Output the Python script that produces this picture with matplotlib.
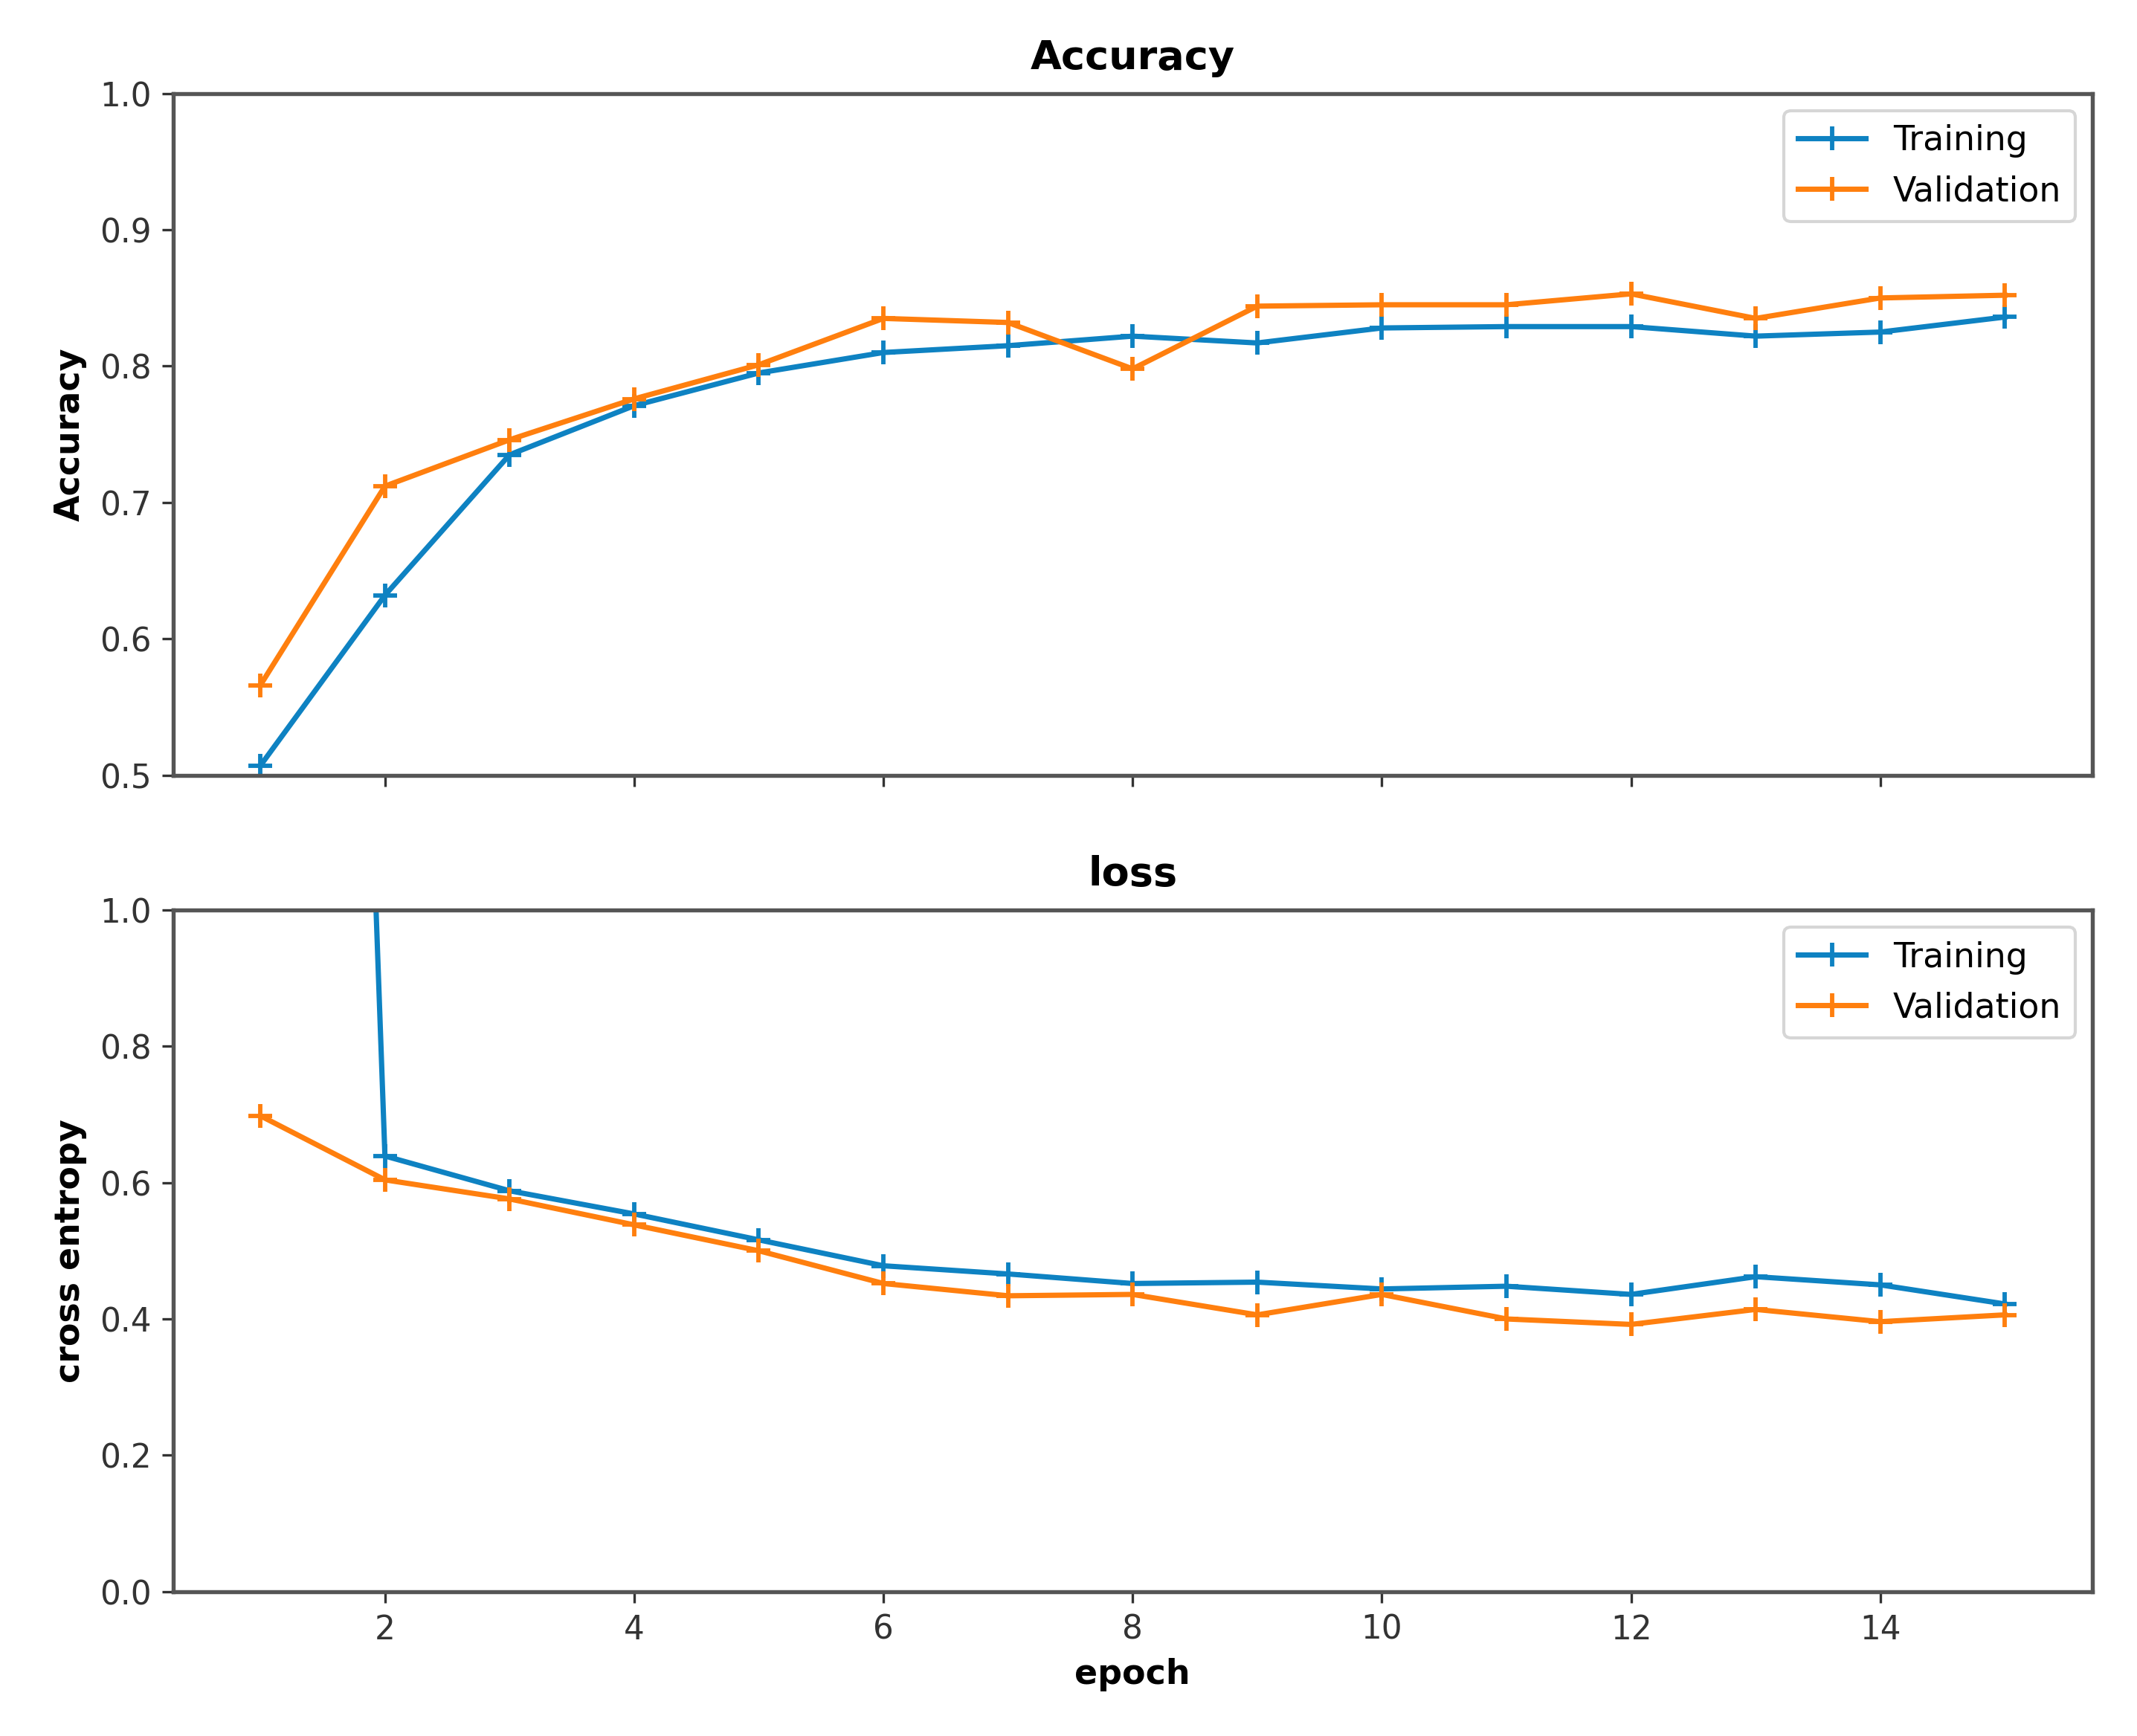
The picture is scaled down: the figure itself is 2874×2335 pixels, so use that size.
import numpy as np
import matplotlib.pyplot as plt

# training history
epochs = np.arange(1, 16)
acc_train = [0.507, 0.632, 0.735, 0.771, 0.795, 0.810, 0.815, 0.822, 0.817, 0.828, 0.829, 0.829, 0.822, 0.825, 0.836]
acc_val = [0.566, 0.712, 0.746, 0.776, 0.801, 0.835, 0.832, 0.798, 0.844, 0.845, 0.845, 0.853, 0.835, 0.850, 0.852]
loss_train = [5.7, 0.639, 0.588, 0.554, 0.516, 0.478, 0.466, 0.452, 0.454, 0.444, 0.448, 0.436, 0.462, 0.450, 0.422]
loss_val = [0.698, 0.604, 0.576, 0.538, 0.500, 0.452, 0.434, 0.436, 0.406, 0.436, 0.400, 0.392, 0.414, 0.396, 0.406]

c_train = '#0e82c2'
c_val = '#ff7f0e'

plt.rcParams['font.family'] = 'DejaVu Sans'
plt.rcParams['axes.edgecolor'] = '#555555'
plt.rcParams['axes.linewidth'] = 1.3
plt.rcParams['xtick.color'] = '#333333'
plt.rcParams['ytick.color'] = '#333333'

fig, (ax1, ax2) = plt.subplots(2, 1, sharex=True, figsize=(9.58, 7.785), dpi=300)
ax1.set_position([0.081, 0.5533, 0.898, 0.3927])
ax2.set_position([0.081, 0.0831, 0.898, 0.3927])

ax1.plot(epochs, acc_train, '-+', color=c_train, lw=1.7, ms=7.5, mew=1.4, label='Training')
ax1.plot(epochs, acc_val, '-+', color=c_val, lw=1.7, ms=7.5, mew=1.4, label='Validation')
ax1.set_ylim(0.5, 1.0)
ax1.set_title('Accuracy', fontsize=13, fontweight='bold', pad=8)
ax1.set_ylabel('Accuracy', fontsize=11, fontweight='bold')
ax1.legend(loc='upper right', fontsize=11)

ax2.plot(epochs, loss_train, '-+', color=c_train, lw=1.7, ms=7.5, mew=1.4, label='Training')
ax2.plot(epochs, loss_val, '-+', color=c_val, lw=1.7, ms=7.5, mew=1.4, label='Validation')
ax2.set_ylim(0.0, 1.0)
ax2.set_title('loss', fontsize=13, fontweight='bold', pad=8)
ax2.set_ylabel('cross entropy', fontsize=11, fontweight='bold')
ax2.set_xlabel('epoch', fontsize=11, fontweight='bold')
ax2.legend(loc='upper right', fontsize=11)

for ax in (ax1, ax2):
    ax.tick_params(labelsize=10.5)

plt.savefig('out.png', dpi=300)
